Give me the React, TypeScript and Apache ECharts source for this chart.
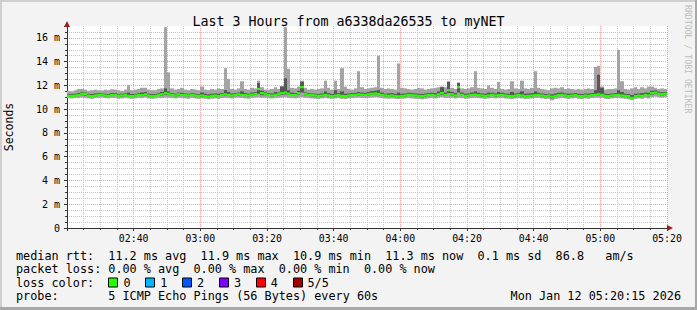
import React, { useEffect, useRef } from 'react';
import * as echarts from 'echarts';

const title = 'Last 3 Hours from a6338da26535 to myNET';
const yAxisName = 'Seconds';
const sideText = 'RRDTOOL / TOBI OETIKER';
const xTickLabels = ['02:40', '03:00', '03:20', '03:40', '04:00', '04:20', '04:40', '05:00', '05:20'];
const yTickLabels = ['0', '2 m', '4 m', '6 m', '8 m', '10 m', '12 m', '14 m', '16 m'];

// one sample per minute from 02:20 (values in ms)
const med = [
  11.10, 11.12, 11.15, 11.18, 11.30, 11.28, 11.15, 11.10, 11.15, 11.20, 11.22, 11.15, 11.12, 11.18, 11.20, 11.10, 11.15, 11.18, 11.12, 11.10,
  11.15, 11.20, 11.18, 11.25, 11.15, 11.10, 11.12, 11.20, 11.25, 11.35, 11.30, 11.20, 11.15, 11.25, 11.20, 11.18, 11.15, 11.20, 11.15, 11.10,
  11.15, 11.10, 11.05, 11.12, 11.15, 11.10, 11.20, 11.25, 11.20, 11.15, 11.20, 11.25, 11.20, 11.18, 11.15, 11.22, 11.30, 11.70, 11.35, 11.30,
  11.20, 11.15, 11.20, 11.25, 11.35, 11.40, 11.30, 11.20, 11.18, 11.35, 11.85, 11.30, 11.20, 11.18, 11.15, 11.12, 11.15, 11.20, 11.15, 11.10,
  11.15, 11.18, 11.12, 11.10, 11.15, 11.18, 11.20, 11.25, 11.22, 11.20, 11.25, 11.30, 11.32, 11.28, 11.20, 11.15, 11.12, 11.15, 11.10, 11.08,
  11.12, 11.15, 11.20, 11.18, 11.15, 11.12, 11.10, 11.15, 11.18, 11.20, 11.15, 11.25, 11.35, 11.20, 11.60, 11.25, 11.15, 11.85, 11.20, 11.12,
  11.15, 11.20, 11.22, 11.18, 11.15, 11.12, 11.15, 11.20, 11.15, 11.18, 11.20, 11.15, 11.12, 11.10, 11.15, 11.20, 11.15, 11.10, 11.12, 11.15,
  11.18, 11.20, 11.15, 11.10, 11.15, 11.05, 11.12, 11.18, 11.20, 11.15, 11.10, 11.15, 11.18, 11.12, 11.10, 11.15, 11.12, 11.18, 11.20, 11.25,
  11.20, 11.12, 11.10, 11.15, 11.18, 11.20, 11.15, 11.12, 11.10, 10.95, 11.10, 11.15, 11.12, 11.20, 11.15, 11.35, 11.40, 11.30, 11.25, 11.30,
];
const pingMax = [
  11.55, 11.50, 11.60, 11.70, 11.70, 11.65, 11.55, 11.60, 11.65, 11.60, 11.58, 11.65, 11.60, 11.68, 11.65, 11.60, 11.55, 11.65, 12.04, 11.60,
  11.65, 11.70, 11.80, 11.80, 11.65, 11.60, 11.60, 11.70, 11.75, 16.90, 13.10, 11.75, 11.65, 11.70, 11.80, 11.65, 11.60, 11.70, 11.65, 11.60,
  11.90, 11.65, 11.60, 11.70, 11.65, 11.75, 11.70, 13.45, 12.55, 11.70, 11.65, 11.75, 12.35, 11.70, 11.65, 11.80, 11.75, 12.40, 11.85, 11.65,
  11.65, 11.70, 11.85, 11.70, 11.95, 16.90, 13.40, 11.80, 11.75, 11.90, 12.40, 11.80, 11.65, 11.70, 11.65, 11.70, 11.75, 12.40, 11.80, 11.65,
  12.40, 11.70, 13.45, 11.90, 11.70, 11.65, 11.75, 13.20, 11.85, 11.70, 11.75, 11.80, 11.85, 14.50, 11.80, 11.70, 11.75, 11.70, 11.65, 13.85,
  11.80, 11.75, 11.70, 11.65, 11.70, 11.80, 11.75, 11.65, 11.70, 11.75, 11.80, 11.85, 11.90, 11.85, 12.35, 11.80, 11.70, 12.25, 11.75, 11.70,
  11.75, 11.85, 13.20, 11.80, 11.75, 11.70, 12.00, 11.80, 11.70, 12.30, 11.70, 11.65, 11.70, 12.35, 11.75, 11.70, 12.40, 11.75, 11.70, 11.80,
  13.20, 11.80, 11.70, 11.65, 11.60, 11.75, 11.80, 11.75, 11.85, 11.70, 11.75, 11.70, 11.65, 11.70, 11.65, 11.70, 11.75, 11.70, 13.55, 13.65,
  11.90, 11.65, 11.70, 11.70, 11.75, 15.00, 12.35, 11.70, 11.65, 11.75, 11.85, 11.70, 11.85, 11.75, 11.90, 11.90, 11.80, 11.70, 11.75, 11.70,
];
const pingMin = [
  10.93, 10.90, 10.95, 10.93, 10.97, 10.95, 10.90, 10.87, 10.93, 10.95, 10.97, 10.93, 10.90, 10.95, 10.93, 10.87, 10.90, 10.95, 10.90, 10.87,
  10.90, 10.95, 10.93, 10.97, 10.90, 10.87, 10.90, 10.95, 10.93, 10.97, 10.95, 10.93, 10.90, 10.95, 10.93, 10.90, 10.87, 10.93, 10.90, 10.87,
  10.90, 10.87, 10.83, 10.87, 10.90, 10.85, 10.93, 10.95, 10.93, 10.90, 10.95, 10.97, 10.93, 10.90, 10.87, 10.95, 10.97, 11.00, 10.95, 10.95,
  10.93, 10.90, 10.93, 10.95, 10.97, 11.00, 10.95, 10.93, 10.90, 10.95, 11.00, 10.95, 10.93, 10.90, 10.87, 10.85, 10.90, 10.93, 10.90, 10.87,
  10.90, 10.93, 10.87, 10.85, 10.90, 10.93, 10.95, 10.97, 10.95, 10.93, 10.95, 10.97, 11.00, 10.97, 10.93, 10.90, 10.87, 10.90, 10.87, 10.85,
  10.87, 10.90, 10.93, 10.90, 10.87, 10.85, 10.83, 10.87, 10.90, 10.93, 10.90, 10.95, 11.00, 10.93, 10.95, 10.95, 10.90, 10.95, 10.93, 10.87,
  10.90, 10.93, 10.95, 10.93, 10.90, 10.87, 10.90, 10.93, 10.90, 10.93, 10.95, 10.90, 10.87, 10.85, 10.90, 10.93, 10.90, 10.85, 10.87, 10.90,
  10.93, 10.95, 10.90, 10.85, 10.87, 10.75, 10.85, 10.90, 10.93, 10.90, 10.85, 10.90, 10.93, 10.87, 10.85, 10.90, 10.87, 10.93, 10.95, 10.97,
  10.95, 10.87, 10.85, 10.90, 10.93, 10.95, 10.90, 10.87, 10.83, 10.77, 10.85, 10.90, 10.87, 10.95, 10.90, 11.00, 11.05, 11.00, 10.97, 11.00,
];
const ping2 = [
  11.05, 11.04, 11.08, 11.10, 11.18, 11.15, 11.08, 11.02, 11.08, 11.12, 11.15, 11.08, 11.05, 11.10, 11.12, 11.02, 11.06, 11.10, 11.05, 11.02,
  11.08, 11.12, 11.10, 11.15, 11.06, 11.02, 11.05, 11.12, 11.15, 11.22, 11.18, 11.12, 11.06, 11.15, 11.12, 11.10, 11.06, 11.12, 11.08, 11.02,
  11.06, 11.02, 10.96, 11.04, 11.06, 11.02, 11.12, 11.15, 11.12, 11.06, 11.12, 11.15, 11.12, 11.10, 11.06, 11.14, 11.20, 11.30, 11.18, 11.18,
  11.12, 11.06, 11.12, 11.15, 11.22, 11.25, 11.20, 11.12, 11.10, 11.22, 11.40, 11.18, 11.12, 11.08, 11.06, 11.02, 11.06, 11.12, 11.06, 11.02,
  11.06, 11.10, 11.04, 11.02, 11.06, 11.10, 11.12, 11.15, 11.14, 11.12, 11.15, 11.20, 11.22, 11.18, 11.12, 11.06, 11.04, 11.06, 11.02, 11.00,
  11.04, 11.06, 11.12, 11.10, 11.06, 11.04, 11.00, 11.06, 11.10, 11.12, 11.06, 11.15, 11.22, 11.12, 11.35, 11.15, 11.06, 11.40, 11.12, 11.04,
  11.06, 11.12, 11.14, 11.10, 11.06, 11.04, 11.06, 11.12, 11.06, 11.10, 11.12, 11.06, 11.04, 11.02, 11.06, 11.12, 11.06, 11.02, 11.04, 11.06,
  11.10, 11.12, 11.06, 11.02, 11.06, 10.92, 11.04, 11.10, 11.12, 11.06, 11.02, 11.06, 11.10, 11.04, 11.02, 11.06, 11.04, 11.10, 11.12, 11.15,
  11.12, 11.04, 11.02, 11.06, 11.10, 11.12, 11.06, 11.04, 11.00, 10.88, 11.02, 11.06, 11.04, 11.12, 11.06, 11.22, 11.28, 11.20, 11.15, 11.20,
];
const ping4 = [
  11.25, 11.28, 11.30, 11.35, 11.45, 11.40, 11.30, 11.28, 11.32, 11.35, 11.35, 11.30, 11.28, 11.35, 11.35, 11.25, 11.30, 11.32, 11.40, 11.28,
  11.30, 11.35, 11.40, 11.45, 11.30, 11.28, 11.28, 11.35, 11.45, 11.75, 11.50, 11.35, 11.30, 11.40, 11.38, 11.32, 11.30, 11.35, 11.30, 11.25,
  11.40, 11.30, 11.25, 11.30, 11.32, 11.30, 11.35, 11.60, 11.45, 11.32, 11.35, 11.40, 11.50, 11.35, 11.30, 11.40, 11.45, 12.20, 11.55, 11.45,
  11.35, 11.32, 11.45, 11.40, 11.90, 12.60, 11.60, 11.40, 11.35, 11.55, 12.30, 11.45, 11.35, 11.32, 11.30, 11.28, 11.32, 11.50, 11.35, 11.28,
  11.60, 11.35, 11.50, 11.30, 11.32, 11.35, 11.38, 11.45, 11.40, 11.38, 11.45, 11.52, 11.55, 11.60, 11.40, 11.30, 11.32, 11.35, 11.28, 11.40,
  11.30, 11.32, 11.38, 11.35, 11.32, 11.30, 11.28, 11.32, 11.35, 11.38, 11.35, 11.50, 11.85, 11.40, 12.30, 11.45, 11.35, 12.20, 11.40, 11.30,
  11.32, 11.40, 11.50, 11.38, 11.32, 11.30, 11.40, 11.38, 11.32, 11.45, 11.38, 11.32, 11.30, 11.45, 11.32, 11.38, 11.50, 11.30, 11.32, 11.35,
  11.50, 11.38, 11.32, 11.28, 11.30, 11.25, 11.32, 11.38, 11.40, 11.32, 11.30, 11.32, 11.35, 11.30, 11.28, 11.32, 11.30, 11.35, 11.60, 12.90,
  11.80, 11.30, 11.28, 11.32, 11.35, 11.60, 11.45, 11.30, 11.28, 11.20, 11.30, 11.32, 11.35, 11.40, 11.38, 11.55, 11.58, 11.48, 11.42, 11.45,
];

const legendRtt: [number, string][] = [
  [0, 'median rtt:'], [13, '11.2 ms avg'], [26, '11.9 ms max'], [39, '10.9 ms min'],
  [52, '11.3 ms now'], [65, '0.1 ms sd'], [76, '86.8'], [83, 'am/s'],
];
const legendLoss: [number, string][] = [
  [0, 'packet loss:'], [13, '0.00 % avg'], [25, '0.00 % max'], [37, '0.00 % min'], [49, '0.00 % now'],
];
const lossLabels = ['0', '1', '2', '3', '4', '5/5'];
const lossColors = ['#26ff00', '#00b8ff', '#0059ff', '#7e00ff', '#ff0000', '#a10000'];
const probeLabel = 'probe:';
const probeText = '5 ICMP Echo Pings (56 Bytes) every 60s';
const stampText = 'Mon Jan 12 05:20:15 2026';

const MONO = '"DejaVu Sans Mono", monospace';

export default function App() {
  const ref = useRef<HTMLDivElement>(null);
  useEffect(() => {
    document.body.style.margin = '0';
    if (!ref.current) return;
    const chart = echarts.init(ref.current, null, { renderer: 'svg' });
    const data = med.map((m, i) => [i, pingMin[i], ping2[i], ping4[i], pingMax[i], m]);
    const charW = 7.1;
    const x0 = 16;
    const txt = (x: number, y: number, text: string, extra: any = {}) => ({
      type: 'text', x, y, silent: true,
      style: { text, fontFamily: MONO, fontSize: 11.8, fill: '#000', align: 'left', verticalAlign: 'middle', ...extra },
    });
    const graphics: any[] = [];
    legendRtt.forEach(([c, t]) => graphics.push(txt(x0 + c * charW, 255.5, t)));
    legendLoss.forEach(([c, t]) => graphics.push(txt(x0 + c * charW, 269, t)));
    graphics.push(txt(x0, 282.5, 'loss color:'));
    lossLabels.forEach((l, k) => {
      graphics.push({ type: 'rect', shape: { x: 108.5 + 37 * k, y: 278, width: 9, height: 9 }, style: { fill: lossColors[k], stroke: '#000', lineWidth: 1 } });
      graphics.push(txt(123.5 + 36.8 * k, 282.5, l));
    });
    graphics.push(txt(x0, 296, probeLabel));
    graphics.push(txt(x0 + 13 * charW, 296, probeText));
    graphics.push(txt(681, 296, stampText, { align: 'right' }));
    graphics.push({
      type: 'text', x: 688, y: 5, rotation: -Math.PI / 2,
      style: { text: sideText, fontFamily: MONO, fontSize: 8.2, fill: '#bdbdbd', align: 'left', verticalAlign: 'middle' },
    });
    // frame
    graphics.push({ type: 'rect', shape: { x: 0, y: 0, width: 697, height: 2 }, style: { fill: '#cfcfcf' } });
    graphics.push({ type: 'rect', shape: { x: 0, y: 0, width: 2, height: 310 }, style: { fill: '#cfcfcf' } });
    graphics.push({ type: 'rect', shape: { x: 695, y: 0, width: 2, height: 310 }, style: { fill: '#a8a8a8' } });
    graphics.push({ type: 'rect', shape: { x: 0, y: 307, width: 697, height: 3 }, style: { fill: '#a8a8a8' } });
    // axis arrows
    graphics.push({ type: 'polygon', shape: { points: [[64, 27], [70, 27], [67, 21]] }, style: { fill: '#9b1c1c' }, z: 10 });
    graphics.push({ type: 'polygon', shape: { points: [[667, 225], [667, 231], [673, 228]] }, style: { fill: '#9b1c1c' }, z: 10 });

    const majorRed = '#f2a0a0';
    const minorGray = '#c4c4c4';

    chart.setOption({
      animation: false,
      backgroundColor: '#f3f3f3',
      textStyle: { fontFamily: MONO },
      title: {
        text: title, left: 'center', top: 10,
        textStyle: { fontFamily: MONO, fontSize: 13.3, fontWeight: 'normal', color: '#000' },
      },
      grid: {
        left: 67, right: 30, top: 26, bottom: 82, containLabel: false, outerBoundsMode: 'none',
        show: true, backgroundColor: '#ffffff', borderWidth: 0,
      },
      xAxis: {
        type: 'value', min: 0, max: 180, interval: 20,
        axisLine: { show: true, lineStyle: { color: '#333', width: 1 } },
        axisTick: { show: true, length: 3, lineStyle: { color: '#333' } },
        minorTick: { show: true, splitNumber: 4, length: 2, lineStyle: { color: '#333' } },
        axisLabel: {
          margin: 5, fontFamily: MONO, fontSize: 9.9, color: '#000',
          formatter: (v: number) => (v > 0 && v % 20 === 0 ? xTickLabels[v / 20 - 1] : ''),
        },
        splitLine: { show: true, lineStyle: { color: majorRed, type: [1, 1], width: 1 } },
        minorSplitLine: { show: true, lineStyle: { color: minorGray, type: [1, 1], width: 1 } },
      },
      yAxis: {
        type: 'value', min: 0, max: 17, interval: 2,
        name: yAxisName, nameLocation: 'middle', nameGap: 52, nameRotate: 90,
        nameTextStyle: { fontFamily: MONO, fontSize: 11.5, color: '#000' },
        axisLine: { show: true, lineStyle: { color: '#333', width: 1 } },
        axisTick: { show: true, length: 3, lineStyle: { color: '#333' } },
        minorTick: { show: true, splitNumber: 4, length: 2, lineStyle: { color: '#333' } },
        axisLabel: {
          margin: 7, fontFamily: MONO, fontSize: 10, color: '#000', showMaxLabel: false,
          formatter: (v: number) => (v % 2 === 0 ? yTickLabels[v / 2] : ''),
        },
        splitLine: { show: true, showMaxLine: false, lineStyle: { color: majorRed, type: [1, 1], width: 1 } },
        minorSplitLine: { show: true, lineStyle: { color: minorGray, type: [1, 1], width: 1 } },
      },
      graphic: graphics,
      series: [
        {
          type: 'custom',
          data,
          encode: { x: 0, y: [1, 4] },
          clip: true,
          renderItem: (params: any, api: any) => {
            const t = api.value(0);
            const xa = Math.round(api.coord([t, 0])[0]);
            const xb = Math.round(api.coord([t + 1, 0])[0]);
            const w = xb - xa;
            const y1 = api.coord([t, api.value(1)])[1];
            const y2 = api.coord([t, api.value(2)])[1];
            const y4 = api.coord([t, api.value(3)])[1];
            const y5 = api.coord([t, api.value(4)])[1];
            const ym = api.coord([t, api.value(5)])[1];
            return {
              type: 'group',
              children: [
                { type: 'rect', shape: { x: xa, y: y5, width: w, height: y1 - y5 }, style: { fill: '#a4a4a4' } },
                { type: 'rect', shape: { x: xa, y: y4, width: w, height: y2 - y4 }, style: { fill: '#585858' } },
                { type: 'rect', shape: { x: xa, y: ym - 1.1, width: w, height: 2.2 }, style: { fill: lossColors[0] } },
              ],
            };
          },
        },
      ],
    });
    return () => chart.dispose();
  }, []);
  return <div ref={ref} style={{ width: 697, height: 310 }} />;
}
